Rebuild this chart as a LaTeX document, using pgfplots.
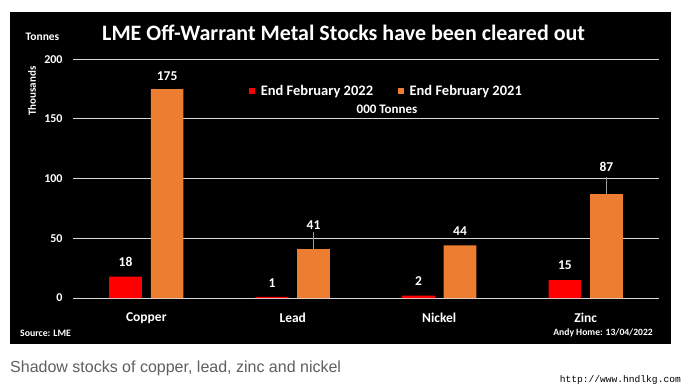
\documentclass[border=0pt]{standalone}
\usepackage{pgfplots}
\pgfplotsset{compat=1.18}
\usepackage{fontspec}
\setmainfont{Carlito}
\newfontfamily\capfont{Liberation Sans}
\newfontfamily\wmfont{Liberation Mono}
\definecolor{redbar}{HTML}{FF0000}
\definecolor{orangebar}{HTML}{ED7D31}
\definecolor{gridc}{HTML}{D9D9D9}
\definecolor{capgray}{HTML}{5F5F5F}
\newcommand{\fs}[1]{\fontsize{#1}{#1}\selectfont}
\begin{document}
\begin{tikzpicture}[x=1pt,y=1pt]
\useasboundingbox (0,0) rectangle (684,386);
\fill[white] (0,0) rectangle (684,386);
\fill[black] (10,42) rectangle (671,374);
\begin{axis}[
  at={(73.1pt,88pt)}, anchor=south west,
  width=585.8pt, height=238.8pt, scale only axis,
  xmin=-0.5, xmax=3.5, ymin=0, ymax=200,
  axis line style={draw=none},
  ytick={0,50,100,150,200},
  ymajorgrids, grid style={gridc, line width=1pt},
  xtick={0,1,2,3}, xticklabels={Copper,Lead,Nickel,Zinc},
  major tick length=0pt,
  xticklabel style={anchor=center, yshift=-20pt, text=white, font=\bfseries\fs{13.5}},
  yticklabel style={anchor=east, xshift=-7pt, text=white, font=\bfseries\fs{12}},
  /pgf/number format/assume math mode=true,
  clip=false,
  legend style={at={(0.3008,0.8668)}, anchor=west, draw=none, fill=none,
    inner sep=0pt, outer sep=0pt, nodes={inner sep=0pt},
    text=white, font=\bfseries\fs{14.5}, legend columns=2,
    /tikz/every odd column/.append style={column sep=5.5pt},
    /tikz/every even column/.append style={column sep=25pt}},
  legend image code/.code={\fill[#1] (0pt,-3pt) rectangle (6pt,3pt);},
]
\addplot[ybar, bar width=32.7pt, bar shift=-20.8pt, fill=redbar, draw=none]
  coordinates {(0,18) (1,1) (2,2) (3,15)};
\addlegendentry{End February 2022}
\addplot[ybar, bar width=32.7pt, bar shift=20.8pt, fill=orangebar, draw=none]
  coordinates {(0,175) (1,41) (2,44) (3,87)};
\addlegendentry{End February 2021}
% leader lines
\addplot[forget plot, gray!80, line width=0.8pt] coordinates {(1.142,41) (1.142,55.5)};
\addplot[forget plot, gray!80, line width=0.8pt] coordinates {(3.142,87) (3.142,101.5)};
% value labels
\addplot[forget plot, only marks, mark=*, mark size=0pt, mark options={draw=none,fill=none},
  nodes near coords, point meta=explicit symbolic,
  every node near coord/.style={anchor=center, text=white, font=\bfseries\fs{13.5}}]
  coordinates {(-0.142,29.9) [18] (0.858,12.6) [1] (1.858,13.9) [2] (2.858,27.1) [15]
               (0.142,185.8) [175] (1.142,60.9) [41] (2.142,55.8) [44] (3.142,109.5) [87]};
\end{axis}
\node[text=white, font=\bfseries\fs{22}, anchor=west, inner sep=0pt] at (102,353.5) {LME Off-Warrant Metal Stocks have been cleared out};
\node[text=white, font=\bfseries\fs{11.5}] at (42.5,349) {Tonnes};
\node[text=white, font=\bfseries\fs{11}, rotate=90] at (32,295) {Thousands};
\node[text=white, font=\bfseries\fs{13}] at (387,276.7) {000 Tonnes};
\node[text=white, font=\bfseries\fs{9.8}, anchor=west, inner sep=0pt] at (20,53) {Source: LME};
\node[text=white, font=\bfseries\fs{9.6}, anchor=east, inner sep=0pt] at (653,53) {Andy Home: 13/04/2022};
\node[text=capgray, font=\capfont\fs{16}, anchor=west, inner sep=0pt] at (10,18) {Shadow stocks of copper, lead, zinc and nickel};
\node[text=black, font=\wmfont\fs{9.6}, anchor=east, inner sep=0pt] at (681,6) {http://www.hndlkg.com};
\end{tikzpicture}
\end{document}
